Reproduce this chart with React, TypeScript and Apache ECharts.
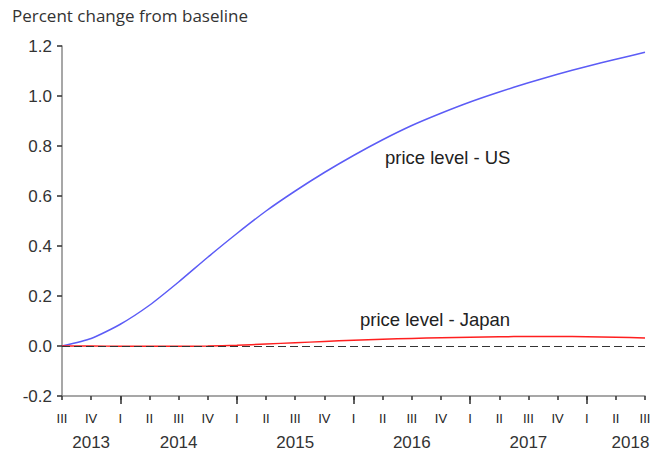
import React, { useEffect, useRef } from "react";
import * as echarts from "echarts";

const periods = [
  "2013Q3", "2013Q4",
  "2014Q1", "2014Q2", "2014Q3", "2014Q4",
  "2015Q1", "2015Q2", "2015Q3", "2015Q4",
  "2016Q1", "2016Q2", "2016Q3", "2016Q4",
  "2017Q1", "2017Q2", "2017Q3", "2017Q4",
  "2018Q1", "2018Q2", "2018Q3",
];

const usPrice = [
  0, 0.03, 0.087, 0.163, 0.256, 0.355, 0.45, 0.54, 0.62, 0.694, 0.762,
  0.825, 0.882, 0.931, 0.976, 1.016, 1.053, 1.087, 1.118, 1.147, 1.175,
];

const japanPrice = [
  0, 0, -0.001, -0.001, -0.001, 0, 0.003, 0.008, 0.013, 0.018, 0.023,
  0.027, 0.03, 0.033, 0.035, 0.037, 0.038, 0.038, 0.037, 0.035, 0.032,
];

const yTicks = { min: -0.2, max: 1.2, step: 0.2 };

const titleText = "Percent change from baseline";
const usLabel = "price level - US";
const japanLabel = "price level - Japan";

const roman: Record<string, string> = { "1": "I", "2": "II", "3": "III", "4": "IV" };

// year label centres, derived from the periods (in quarter-index units)
function yearCenters(): Record<number, string> {
  const out: Record<number, string> = {};
  const years: string[] = [];
  periods.forEach((p) => {
    const y = p.slice(0, 4);
    if (!years.includes(y)) years.push(y);
  });
  const last = periods.length - 1;
  years.forEach((y) => {
    const idx = periods.map((p, i) => (p.startsWith(y) ? i : -1)).filter((i) => i >= 0);
    const first = idx[0];
    const end = idx[idx.length - 1] + 1;
    let c = (first + end) / 2;
    if (c > last - 0.4) c = last - 0.4;
    if (c < 0.85) c = 0.85;
    out[Math.round(c * 20)] = y;
  });
  return out;
}

export default function App() {
  const ref = useRef<HTMLDivElement>(null);

  useEffect(() => {
    if (!ref.current) return;
    const chart = echarts.init(ref.current, undefined, { renderer: "svg" });
    const centers = yearCenters();
    const axisGray = "#8a8a8a";
    const tickColor = "#3a3a3a";
    const textColor = "#333333";
    const font = "Liberation Sans, Arial, sans-serif";

    chart.setOption({
      animation: false,
      backgroundColor: "#ffffff",
      grid: { left: 62, right: 12, top: 46, bottom: 62 },
      graphic: [
        {
          type: "text",
          left: 12,
          top: 7,
          style: { text: titleText, fill: "#333", font: "17px 'Open Sans', sans-serif" },
        },
        {
          type: "text",
          left: 385,
          top: 148,
          style: { text: usLabel, fill: "#222", font: "18.5px 'Liberation Sans', Arial, sans-serif" },
        },
        {
          type: "text",
          left: 360,
          top: 310,
          style: { text: japanLabel, fill: "#222", font: "18.5px 'Liberation Sans', Arial, sans-serif" },
        },
      ],
      xAxis: [
        {
          type: "category",
          data: periods,
          boundaryGap: false,
          position: "bottom",
          axisLine: { show: true, onZero: false, lineStyle: { color: axisGray, width: 1.5 } },
          axisTick: { show: true, inside: false, interval: 0, length: 4, lineStyle: { color: tickColor, width: 1.6 } },
          axisLabel: {
            interval: 0,
            margin: 16,
            color: "#222",
            fontFamily: font,
            fontSize: 13,
            formatter: (v: string) => roman[v.slice(5)] || "",
          },
          splitLine: { show: false },
        },
        {
          type: "category",
          data: periods,
          boundaryGap: false,
          position: "bottom",
          axisLine: { show: false, onZero: false },
          axisTick: {
            show: true,
            inside: false,
            length: 8,
            interval: (_i: number, v: string) => v.endsWith("Q1"),
            lineStyle: { color: tickColor, width: 1.6 },
          },
          axisLabel: { show: false },
          splitLine: { show: false },
        },
        {
          type: "value",
          min: 0,
          max: periods.length - 1,
          interval: 0.05,
          position: "bottom",
          axisLine: { show: false, onZero: false },
          axisTick: { show: false },
          splitLine: { show: false },
          axisLabel: {
            margin: 38,
            color: textColor,
            fontFamily: font,
            fontSize: 17,
            showMinLabel: true,
            showMaxLabel: true,
            formatter: (v: number) => centers[Math.round(v * 20)] || "",
          },
        },
      ],
      yAxis: {
        type: "value",
        min: yTicks.min,
        max: yTicks.max,
        interval: yTicks.step,
        axisLine: { show: true, onZero: false, lineStyle: { color: axisGray, width: 1.5 } },
        axisTick: { show: true, length: 5, lineStyle: { color: tickColor, width: 1.6 } },
        splitLine: { show: false },
        axisLabel: {
          margin: 10,
          color: textColor,
          fontFamily: font,
          fontSize: 17,
          formatter: (v: number) => v.toFixed(1),
        },
      },
      series: [
        {
          name: "US",
          type: "line",
          data: usPrice,
          xAxisIndex: 0,
          showSymbol: false,
          symbol: "none",
          smooth: 0.2,
          z: 2,
          lineStyle: { color: "#5c5cf6", width: 1.5 },
          markLine: {
            silent: true,
            symbol: "none",
            label: { show: false },
            lineStyle: { color: "#333", type: [8, 4], width: 1 },
            data: [{ yAxis: 0 }],
          },
        },
        {
          name: "Japan",
          type: "line",
          data: japanPrice,
          xAxisIndex: 0,
          showSymbol: false,
          symbol: "none",
          smooth: 0.2,
          z: 3,
          lineStyle: { color: "#ff1f1f", width: 1.5 },
        },
      ],
    });

    return () => chart.dispose();
  }, []);

  return (
    <div
      ref={ref}
      style={{ position: "fixed", left: 0, top: 0, width: 657, height: 458, background: "#fff" }}
    />
  );
}
